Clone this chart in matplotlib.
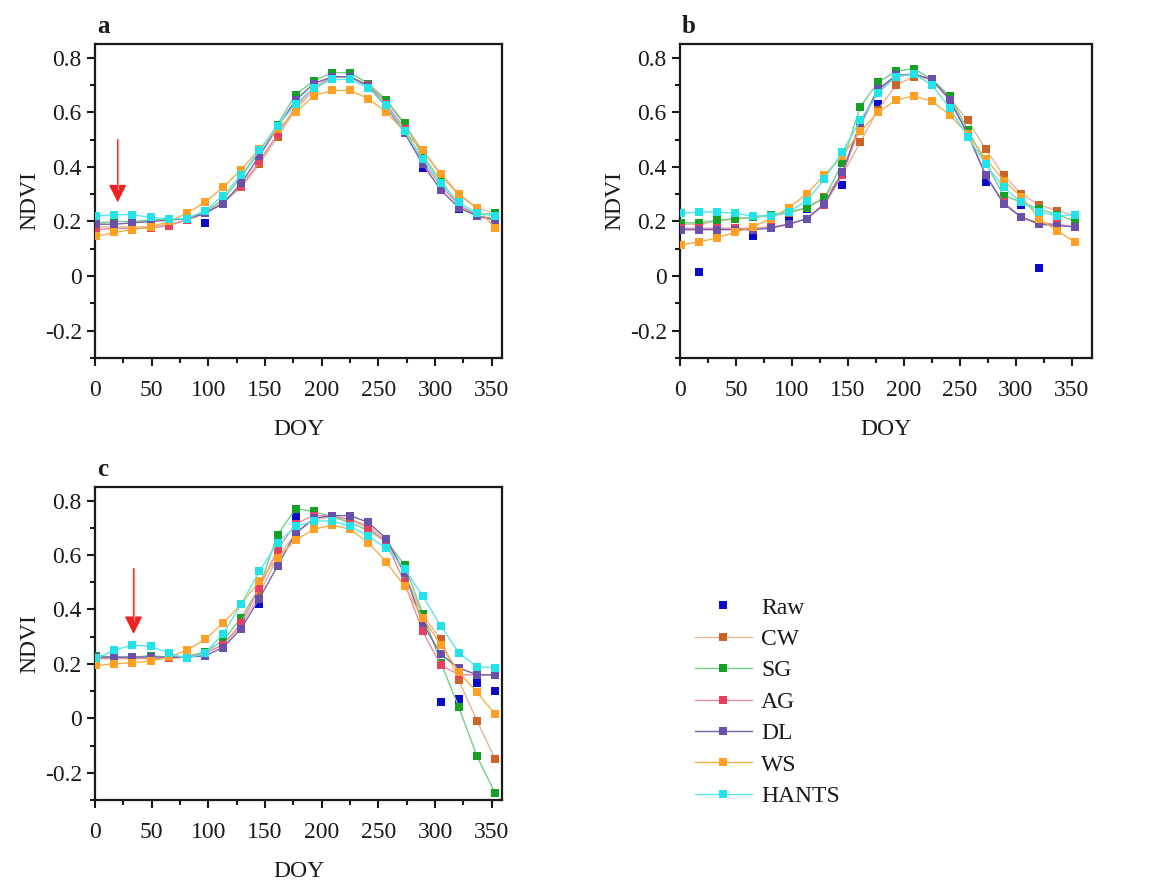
import numpy as np
import matplotlib
matplotlib.use("Agg")
import matplotlib.pyplot as plt
from matplotlib.ticker import MultipleLocator, FuncFormatter

plt.rcParams['font.family'] = ['Liberation Serif', 'DejaVu Serif']

doy = [1, 17, 33, 49, 65, 81, 97, 113, 129, 145, 161, 177, 193, 209, 225, 241, 257, 273, 289, 305, 321, 337, 353]
series_names = ["Raw", "CW", "SG", "AG", "DL", "WS", "HANTS"]

# ---- panel a ----
a_raw   = [0.19, 0.20, 0.20, 0.205, 0.21, 0.205, 0.195, 0.27, 0.36, 0.45, 0.54, 0.65, 0.70, 0.73, 0.73, 0.70, 0.63, 0.54, 0.395, 0.33, 0.245, 0.22, 0.215]
a_cw    = [0.18, 0.18, 0.18, 0.18, 0.19, 0.205, 0.23, 0.27, 0.325, 0.41, 0.51, 0.61, 0.68, 0.73, 0.73, 0.70, 0.64, 0.555, 0.46, 0.37, 0.295, 0.25, 0.23]
a_sg    = [0.195, 0.20, 0.20, 0.205, 0.21, 0.21, 0.235, 0.28, 0.365, 0.455, 0.555, 0.665, 0.715, 0.745, 0.745, 0.705, 0.645, 0.56, 0.44, 0.35, 0.26, 0.225, 0.23]
a_ag    = [0.17, 0.175, 0.175, 0.175, 0.185, 0.205, 0.23, 0.27, 0.33, 0.42, 0.52, 0.62, 0.69, 0.73, 0.73, 0.70, 0.63, 0.54, 0.42, 0.33, 0.26, 0.22, 0.21]
a_dl    = [0.19, 0.19, 0.195, 0.20, 0.205, 0.21, 0.23, 0.265, 0.34, 0.44, 0.545, 0.645, 0.705, 0.73, 0.73, 0.695, 0.62, 0.525, 0.41, 0.315, 0.25, 0.22, 0.205]
a_ws    = [0.145, 0.16, 0.17, 0.18, 0.20, 0.23, 0.27, 0.325, 0.39, 0.465, 0.54, 0.60, 0.66, 0.68, 0.68, 0.65, 0.60, 0.53, 0.46, 0.375, 0.30, 0.25, 0.175]
a_hants = [0.22, 0.225, 0.225, 0.215, 0.21, 0.21, 0.24, 0.295, 0.37, 0.46, 0.55, 0.63, 0.69, 0.72, 0.72, 0.69, 0.625, 0.53, 0.43, 0.34, 0.27, 0.23, 0.22]

# ---- panel b ----
b_raw   = [0.19, 0.015, 0.205, 0.21, 0.145, 0.22, 0.22, 0.245, 0.28, 0.335, 0.55, 0.63, 0.74, 0.74, 0.72, 0.65, 0.52, 0.345, 0.29, 0.26, 0.03, 0.22, 0.20]
b_cw    = [0.19, 0.19, 0.20, 0.21, 0.215, 0.22, 0.23, 0.25, 0.29, 0.37, 0.49, 0.61, 0.70, 0.73, 0.72, 0.65, 0.57, 0.465, 0.37, 0.30, 0.26, 0.24, 0.22]
b_sg    = [0.195, 0.195, 0.205, 0.21, 0.215, 0.225, 0.235, 0.25, 0.285, 0.415, 0.62, 0.71, 0.75, 0.76, 0.72, 0.66, 0.535, 0.415, 0.295, 0.27, 0.245, 0.225, 0.20]
b_ag    = [0.175, 0.175, 0.175, 0.175, 0.175, 0.18, 0.19, 0.21, 0.26, 0.37, 0.55, 0.68, 0.73, 0.74, 0.72, 0.645, 0.52, 0.37, 0.27, 0.215, 0.195, 0.19, 0.18]
b_dl    = [0.17, 0.17, 0.17, 0.17, 0.17, 0.175, 0.19, 0.21, 0.265, 0.38, 0.56, 0.685, 0.735, 0.74, 0.72, 0.645, 0.52, 0.37, 0.265, 0.215, 0.19, 0.185, 0.18]
b_ws    = [0.115, 0.125, 0.14, 0.16, 0.18, 0.21, 0.25, 0.30, 0.37, 0.44, 0.53, 0.60, 0.645, 0.66, 0.64, 0.59, 0.52, 0.43, 0.35, 0.29, 0.21, 0.165, 0.125]
b_hants = [0.23, 0.235, 0.235, 0.23, 0.22, 0.22, 0.235, 0.275, 0.355, 0.455, 0.57, 0.67, 0.73, 0.74, 0.70, 0.615, 0.51, 0.41, 0.325, 0.27, 0.235, 0.22, 0.225]

# ---- panel c ----
c_raw   = [0.23, 0.225, 0.225, 0.23, 0.225, 0.225, 0.235, 0.27, 0.36, 0.42, 0.67, 0.745, 0.76, 0.74, 0.72, 0.70, 0.65, 0.55, 0.36, 0.06, 0.07, 0.13, 0.10]
c_cw    = [0.22, 0.22, 0.22, 0.22, 0.22, 0.23, 0.24, 0.27, 0.34, 0.46, 0.59, 0.68, 0.73, 0.74, 0.73, 0.71, 0.65, 0.53, 0.38, 0.29, 0.14, -0.01, -0.15]
c_sg    = [0.23, 0.225, 0.225, 0.23, 0.225, 0.225, 0.245, 0.285, 0.37, 0.48, 0.675, 0.77, 0.76, 0.74, 0.72, 0.69, 0.65, 0.565, 0.385, 0.205, 0.04, -0.14, -0.275]
c_ag    = [0.22, 0.22, 0.22, 0.22, 0.22, 0.225, 0.24, 0.27, 0.35, 0.48, 0.62, 0.715, 0.745, 0.745, 0.73, 0.70, 0.645, 0.50, 0.32, 0.195, 0.16, 0.16, 0.16]
c_dl    = [0.225, 0.225, 0.225, 0.225, 0.225, 0.225, 0.23, 0.26, 0.33, 0.44, 0.56, 0.68, 0.735, 0.745, 0.745, 0.72, 0.66, 0.535, 0.35, 0.235, 0.185, 0.16, 0.16]
c_ws    = [0.195, 0.20, 0.205, 0.21, 0.225, 0.25, 0.29, 0.35, 0.42, 0.505, 0.59, 0.655, 0.695, 0.71, 0.695, 0.645, 0.575, 0.485, 0.37, 0.27, 0.17, 0.095, 0.015]
c_hants = [0.22, 0.25, 0.27, 0.265, 0.24, 0.22, 0.24, 0.31, 0.42, 0.54, 0.645, 0.705, 0.725, 0.725, 0.705, 0.67, 0.625, 0.55, 0.45, 0.34, 0.24, 0.19, 0.185]

panel_labels = ["a", "b", "c"]
xticks = [0, 50, 100, 150, 200, 250, 300, 350]
yticks = [-0.2, 0, 0.2, 0.4, 0.6, 0.8]

# annotation arrows (panel a and c): DOY, shaft top, tip
arrow_a = (20, 0.50, 0.27)
arrow_c = (34, 0.55, 0.31)

marker_colors = {"Raw": "#0a0acc", "CW": "#cc6428", "SG": "#16a026", "AG": "#e8405e",
                 "DL": "#6a50a8", "WS": "#ffa024", "HANTS": "#22e4e8"}
line_colors = {"Raw": "none", "CW": "#e2b49a", "SG": "#72cf88", "AG": "#eb8c9e",
               "DL": "#7564ac", "WS": "#f4b048", "HANTS": "#5ce6ea"}

fig = plt.figure(figsize=(11.53, 8.83), dpi=100)
W, H = 1153, 883
def ax_rect(l, r, t, b):
    return [l / W, 1 - b / H, (r - l) / W, (b - t) / H]

axes_specs = [
    (ax_rect(95, 502, 44, 358), [a_raw, a_cw, a_sg, a_ag, a_dl, a_ws, a_hants], (0, 359), arrow_a),
    (ax_rect(680, 1092, 44, 358), [b_raw, b_cw, b_sg, b_ag, b_dl, b_ws, b_hants], (0, 368), None),
    (ax_rect(95, 502, 487, 800), [c_raw, c_cw, c_sg, c_ag, c_dl, c_ws, c_hants], (0, 359), arrow_c),
]

FS = 17
TXT = '#1a1a1a'
handles = None
for i, (rect, data, xl, arrow) in enumerate(axes_specs):
    ax = fig.add_axes(rect)
    hs = []
    for name, vals in zip(series_names, data):
        if name == "Raw":
            h, = ax.plot(doy, vals, linestyle='none', marker='s', ms=5.8,
                         mfc=marker_colors[name], mec=marker_colors[name], mew=0,
                         label=name, zorder=2)
        else:
            h, = ax.plot(doy, vals, color=line_colors[name], lw=1.0, marker='s', ms=5.8,
                         mfc=marker_colors[name], mec=marker_colors[name], mew=0,
                         label=name, zorder=3)
        hs.append(h)
    if handles is None:
        handles = hs
    if arrow is not None:
        ax_x, y_top, y_tip = arrow
        ax.annotate("", xy=(ax_x, y_tip), xytext=(ax_x, y_top),
                    arrowprops=dict(arrowstyle="-|>,head_length=1.1,head_width=0.55",
                                    color="#f02020", lw=1.0, shrinkA=0, shrinkB=0),
                    zorder=5)
        ax.plot([ax_x, ax_x], [y_top, y_tip + 0.05], color="#f08a8a", lw=1.0, zorder=6)
    ax.set_xlim(*xl)
    ax.set_ylim(-0.3, 0.85)
    ax.set_xticks(xticks)
    ax.set_yticks(yticks)
    ax.xaxis.set_minor_locator(MultipleLocator(25))
    ax.yaxis.set_minor_locator(MultipleLocator(0.1))
    ax.yaxis.set_major_formatter(FuncFormatter(lambda v, p: "%g" % round(v, 2)))
    ax.tick_params(which='both', direction='out', top=False, right=False,
                   width=1.5, labelsize=FS, colors=TXT)
    ax.tick_params(which='major', length=5.5)
    ax.tick_params(which='minor', length=3.5)
    ax.tick_params(axis='x', which='major', pad=10)
    ax.tick_params(axis='y', which='major', pad=4)
    for s in ax.spines.values():
        s.set_linewidth(1.6)
        s.set_color(TXT)
    ax.set_xlabel("DOY", fontsize=FS, labelpad=13, color=TXT)
    ax.set_ylabel("NDVI", fontsize=FS, labelpad=3, color=TXT)
    ax.text(0.005, 1.035, panel_labels[i], transform=ax.transAxes, fontsize=18,
            fontweight='bold', ha='left', va='baseline', color=TXT)

fig.legend(handles=handles, labels=series_names, loc='upper left',
           bbox_to_anchor=(695 / W, 1 - 597 / H), frameon=False, fontsize=FS,
           handlelength=2.4, handletextpad=0.4, labelspacing=0.42,
           borderpad=0, borderaxespad=0, numpoints=1, labelcolor=TXT)

fig.savefig("out.png", dpi=100, facecolor='white')
